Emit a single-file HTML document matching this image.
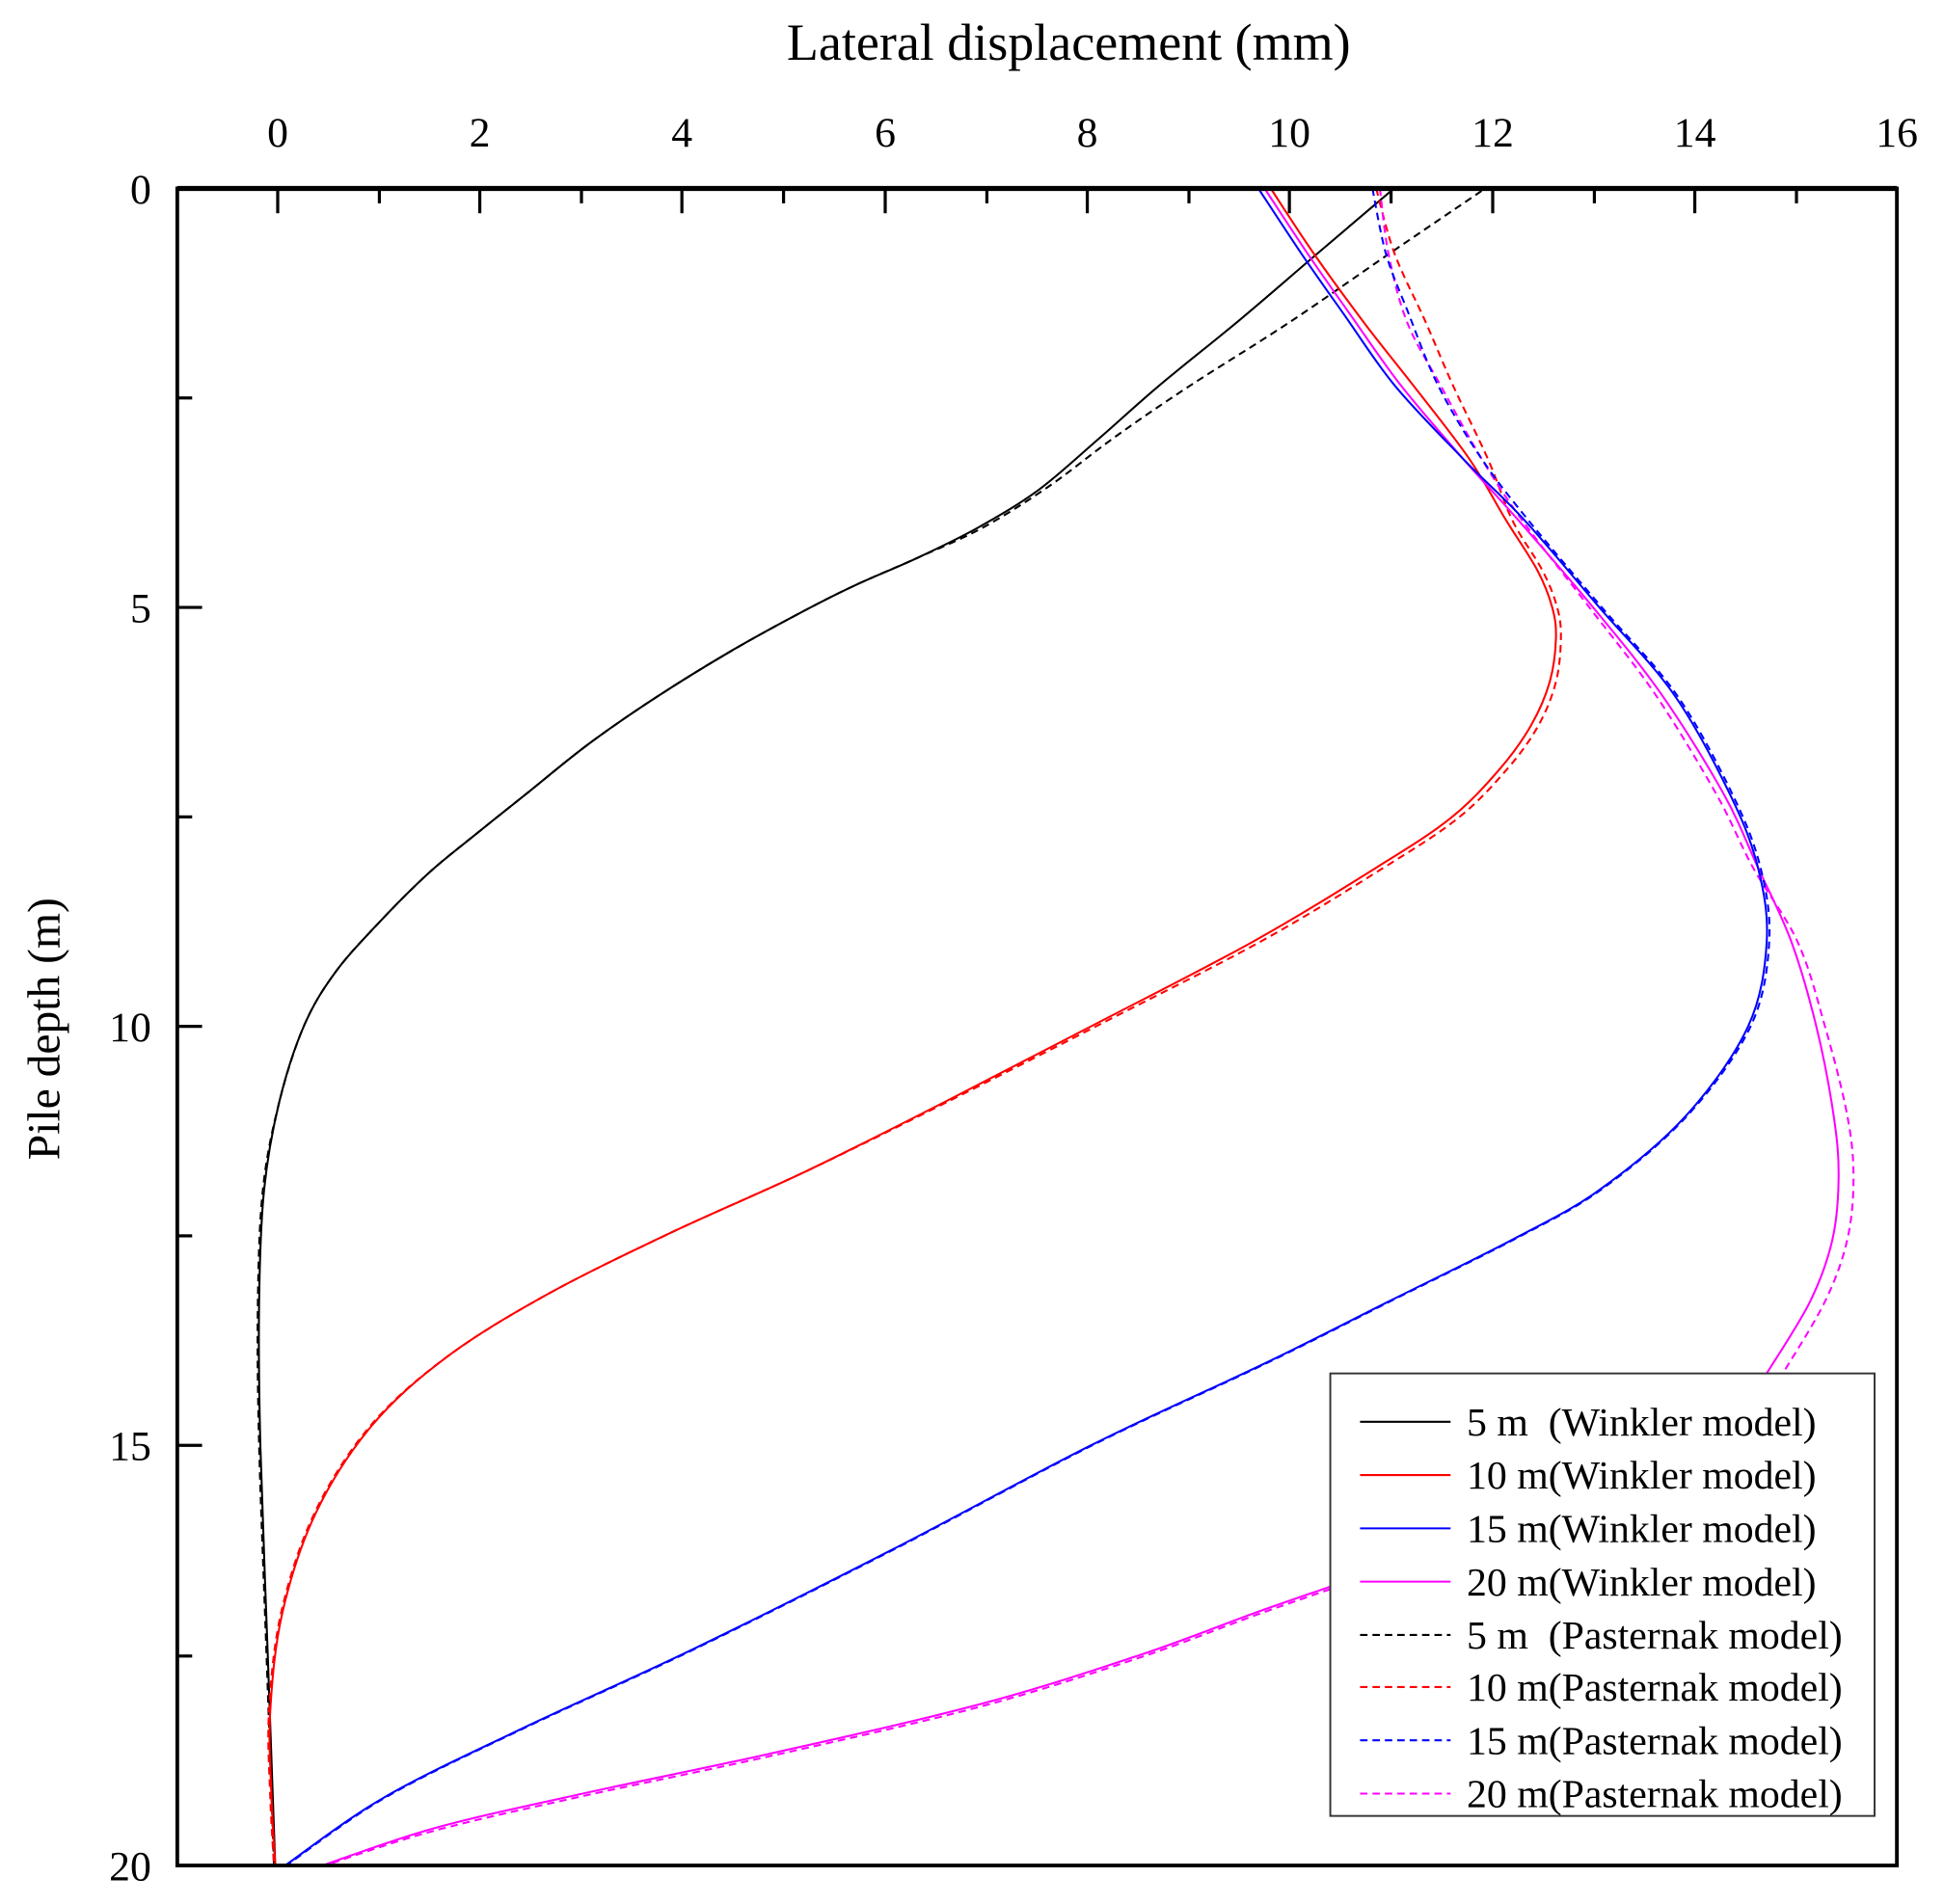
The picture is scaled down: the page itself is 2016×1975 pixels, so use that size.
<!DOCTYPE html>
<html><head><meta charset="utf-8"><style>
html,body{margin:0;padding:0;background:#fff}
svg{display:block}
text{font-family:"Liberation Serif",serif;fill:#000}
</style></head><body>
<svg id="c" width="2016" height="1975" viewBox="0 0 1568 1536" xmlns="http://www.w3.org/2000/svg">
<rect width="1568" height="1536" fill="#fff"/>
<text x="862" y="48" font-size="42" text-anchor="middle">Lateral displacement (mm)</text>
<text transform="translate(48,830) rotate(-90)" font-size="37" text-anchor="middle">Pile depth (m)</text>
<g font-size="34" text-anchor="middle">
<text x="224" y="118">0</text><text x="387" y="118">2</text><text x="550" y="118">4</text><text x="714" y="118">6</text><text x="877" y="118">8</text><text x="1040" y="118">10</text><text x="1204" y="118">12</text><text x="1367" y="118">14</text><text x="1530" y="118">16</text>
</g>
<g font-size="34" text-anchor="end">
<text x="122" y="164">0</text><text x="122" y="502">5</text><text x="122" y="840">10</text><text x="122" y="1178">15</text><text x="122" y="1517">20</text>
</g>
<g stroke="#000" stroke-width="2.5">
<line x1="224" y1="152" x2="224" y2="172"/><line x1="387" y1="152" x2="387" y2="172"/><line x1="550" y1="152" x2="550" y2="172"/><line x1="714" y1="152" x2="714" y2="172"/><line x1="877" y1="152" x2="877" y2="172"/><line x1="1040" y1="152" x2="1040" y2="172"/><line x1="1204" y1="152" x2="1204" y2="172"/><line x1="1367" y1="152" x2="1367" y2="172"/>
<line x1="306" y1="152" x2="306" y2="164"/><line x1="469" y1="152" x2="469" y2="164"/><line x1="632" y1="152" x2="632" y2="164"/><line x1="796" y1="152" x2="796" y2="164"/><line x1="959" y1="152" x2="959" y2="164"/><line x1="1122" y1="152" x2="1122" y2="164"/><line x1="1286" y1="152" x2="1286" y2="164"/><line x1="1449" y1="152" x2="1449" y2="164"/>
<line x1="143" y1="490" x2="163" y2="490"/><line x1="143" y1="828" x2="163" y2="828"/><line x1="143" y1="1166" x2="163" y2="1166"/>
<line x1="143" y1="321" x2="155" y2="321"/><line x1="143" y1="659" x2="155" y2="659"/><line x1="143" y1="997" x2="155" y2="997"/><line x1="143" y1="1336" x2="155" y2="1336"/>
</g>
<g fill="none" stroke-width="1.6" stroke-linejoin="round">
<polyline class="s" stroke="#000" points="1122,154 1062,205 1000,258 935,311 885,355 838,395 790,425 740,450 690,472 650,492 590,525 530,562 475,600 425,640 385,672 345,705 305,745 270,785 245,828 225,890 213,960 209,1050 210,1166 216,1336 222,1505"/>
<polyline class="s" stroke="#000" stroke-dasharray="6,4" points="1195,154 1120,205 1040,260 960,311 900,352 845,393 792,426 740,450 690,472 650,492 590,525 530,562 475,600 425,640 385,672 345,705 305,745 270,785 245,828 225,890 212,960 208,1050 209,1166 215,1336 221,1505"/>
<polyline class="s" stroke="#f00" points="1025,152 1060,205 1100,260 1140,311 1185,370 1215,420 1240,460 1252,490 1255,515 1250,550 1235,585 1210,620 1170,660 1110,700 1010,760 880,828 760,890 650,945 540,995 440,1045 360,1095 300,1150 255,1220 228,1300 218,1380 219,1450 222,1505"/>
<polyline class="s" stroke="#f00" stroke-dasharray="6,4" points="1110,152 1125,205 1150,260 1172,311 1200,370 1220,420 1244,460 1256,490 1259,515 1255,550 1241,585 1216,620 1176,660 1116,700 1016,760 884,828 762,890 650,945 540,995 440,1045 360,1095 299,1150 254,1220 227,1300 217,1380 218,1450 221,1505"/>
<polyline class="s" stroke="#f0f" points="1020,152 1055,205 1090,255 1130,311 1180,370 1225,420 1285,490 1340,560 1390,640 1418,700 1445,760 1465,828 1479,900 1483,950 1478,1000 1460,1050 1425,1108"/>
<polyline class="s" stroke="#f0f" stroke-dasharray="6,4" points="1113,152 1120,205 1135,260 1162,311 1195,370 1228,420 1282,490 1335,560 1384,640 1414,700 1450,760 1472,828 1490,900 1495,950 1490,1000 1472,1050 1438,1108"/>
<polyline class="s" stroke="#f0f" points="1073,1280 1010,1302 920,1335 790,1375 620,1415 470,1447 350,1475 260,1505"/>
<polyline class="s" stroke="#f0f" stroke-dasharray="6,4" points="1073,1282 1010,1304 920,1337 790,1377 620,1417 470,1449 350,1477 262,1505"/>
<polyline class="s" stroke="#00f" points="1015,152 1050,205 1085,255 1125,311 1180,370 1230,420 1290,490 1350,560 1395,640 1418,700 1425,760 1410,828 1360,900 1290,960 1220,1000 1120,1050 1020,1100 880,1166 720,1250 560,1330 420,1395 310,1450 230,1505"/>
<polyline class="s" stroke="#00f" stroke-dasharray="6,4" points="1107,152 1118,205 1135,250 1160,311 1195,370 1233,420 1292,490 1352,560 1397,640 1420,700 1427,760 1412,828 1361,900 1291,960 1221,1000 1121,1050 1021,1100 881,1166 721,1250 561,1330 421,1395 311,1450 231,1505"/>
</g>
<rect x="143" y="152" width="1387" height="1353" fill="none" stroke="#000" stroke-width="3"/>
<line x1="143" y1="152" x2="1530" y2="152" stroke="#000" stroke-width="4"/>
<rect x="1073" y="1108" width="439" height="357" fill="#fff" stroke="#333" stroke-width="1.5"/>
<g stroke-width="1.6">
<line x1="1097" y1="1147" x2="1170" y2="1147" stroke="#000"/>
<line x1="1097" y1="1190" x2="1170" y2="1190" stroke="#f00"/>
<line x1="1097" y1="1233" x2="1170" y2="1233" stroke="#00f"/>
<line x1="1097" y1="1276" x2="1170" y2="1276" stroke="#f0f"/>
<line x1="1097" y1="1319" x2="1170" y2="1319" stroke="#000" stroke-dasharray="6,4"/>
<line x1="1097" y1="1361" x2="1170" y2="1361" stroke="#f00" stroke-dasharray="6,4"/>
<line x1="1097" y1="1404" x2="1170" y2="1404" stroke="#00f" stroke-dasharray="6,4"/>
<line x1="1097" y1="1447" x2="1170" y2="1447" stroke="#f0f" stroke-dasharray="6,4"/>
</g>
<g font-size="32.5">
<text x="1183" y="1158" xml:space="preserve">5 m  (Winkler model)</text>
<text x="1183" y="1201">10 m(Winkler model)</text>
<text x="1183" y="1244">15 m(Winkler model)</text>
<text x="1183" y="1287">20 m(Winkler model)</text>
<text x="1183" y="1330" xml:space="preserve">5 m  (Pasternak model)</text>
<text x="1183" y="1372">10 m(Pasternak model)</text>
<text x="1183" y="1415">15 m(Pasternak model)</text>
<text x="1183" y="1458">20 m(Pasternak model)</text>
</g>
</svg>
<script>
document.querySelectorAll('polyline.s').forEach(function(pl){
  var p=pl.getAttribute('points').trim().split(/\s+/).map(function(s){return s.split(',').map(Number);});
  var d='M'+p[0][0]+','+p[0][1];
  for(var i=0;i<p.length-1;i++){
    var p0=p[i-1]||p[i],p1=p[i],p2=p[i+1],p3=p[i+2]||p[i+1];
    var c1x=p1[0]+(p2[0]-p0[0])/6,c1y=p1[1]+(p2[1]-p0[1])/6;
    var c2x=p2[0]-(p3[0]-p1[0])/6,c2y=p2[1]-(p3[1]-p1[1])/6;
    d+=' C'+c1x.toFixed(1)+','+c1y.toFixed(1)+' '+c2x.toFixed(1)+','+c2y.toFixed(1)+' '+p2[0]+','+p2[1];
  }
  var path=document.createElementNS('http://www.w3.org/2000/svg','path');
  ['stroke','stroke-dasharray'].forEach(function(a){var v=pl.getAttribute(a);if(v)path.setAttribute(a,v);});
  path.setAttribute('d',d);
  pl.parentNode.replaceChild(path,pl);
});
</script>
</body></html>
